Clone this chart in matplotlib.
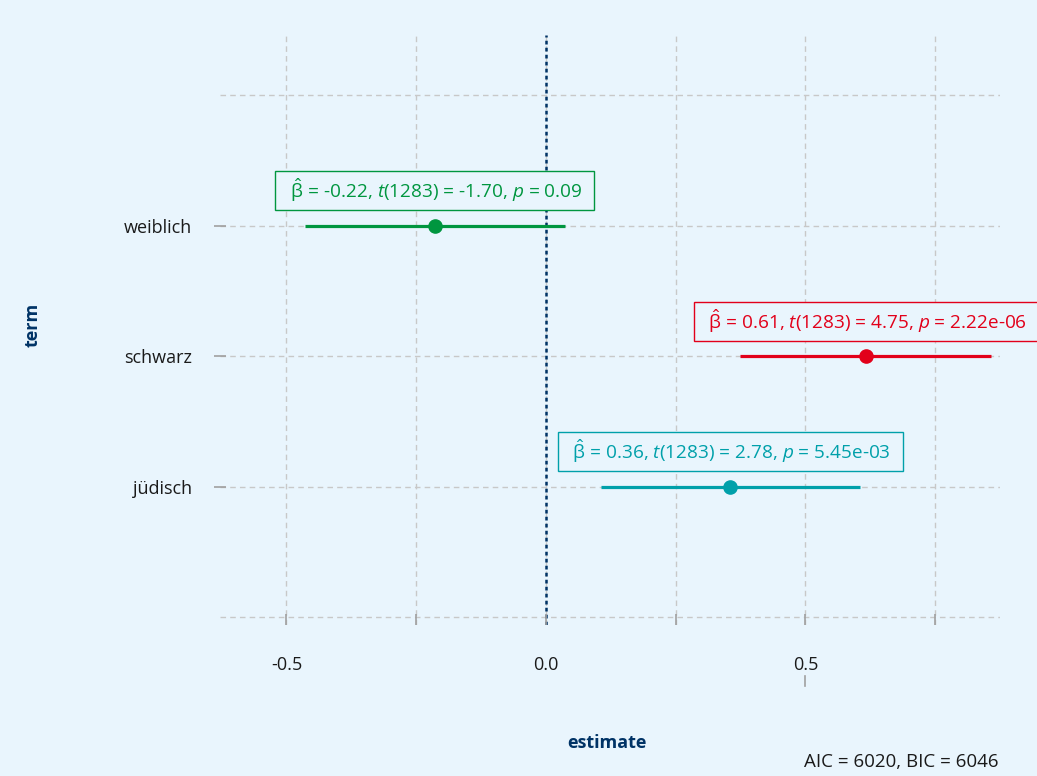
import matplotlib
matplotlib.use("Agg")
import matplotlib.pyplot as plt
from matplotlib.lines import Line2D
import matplotlib.transforms as mtransforms

plt.rcParams['font.family'] = ['Open Sans', 'DejaVu Sans']
plt.rcParams['mathtext.fontset'] = 'custom'
plt.rcParams['mathtext.rm'] = 'Open Sans'
plt.rcParams['mathtext.it'] = 'Open Sans:italic'
plt.rcParams['axes.unicode_minus'] = False

# data
terms = ["jüdisch", "schwarz", "weiblich"]
estimates = [0.355, 0.617, -0.214]
ci_low = [0.106, 0.374, -0.464]
ci_high = [0.605, 0.857, 0.037]
labels = [
    r"  $\hat{\mathrm{\beta}}$ = 0.36, $t$(1283) = 2.78, $p$ = 5.45e-03  ",
    r"  $\hat{\mathrm{\beta}}$ = 0.61, $t$(1283) = 4.75, $p$ = 2.22e-06  ",
    r"  $\hat{\mathrm{\beta}}$ = -0.22, $t$(1283) = -1.70, $p$ = 0.09  ",
]
colors = ["#00A0AA", "#E2001A", "#00963F"]
caption = "AIC = 6020, BIC = 6046"

bg = "#E9F5FD"
navy = "#003366"

fig = plt.figure(figsize=(10.37, 7.76), dpi=100, facecolor=bg)
ax = fig.add_axes([220/1037, 1 - 625/776, 780/1037, 590/776])
ax.set_facecolor(bg)
for s in ax.spines.values():
    s.set_visible(False)

ypos = list(range(1, len(terms) + 1))

ax.set_xlim(-0.628, 0.875)
ax.set_ylim(-0.06, 4.46)

# grid
for gx in [-0.5, -0.25, 0, 0.25, 0.5, 0.75]:
    ax.axvline(gx, color="#C8C8C8", lw=1, ls=(0, (4, 3)), zorder=0)
for gy in [0, 1, 2, 3, 4]:
    ax.axhline(gy, color="#C8C8C8", lw=1, ls=(0, (4, 3)), zorder=0)

ax.axvline(0, color=navy, lw=1.8, ls=(0, (1.5, 1.3)), zorder=1)

for y, est, lo, hi, lab, c in zip(ypos, estimates, ci_low, ci_high, labels, colors):
    ax.plot([lo, hi], [y, y], color=c, lw=2.3, solid_capstyle="butt", zorder=2)
    ax.plot(est, y, "o", color=c, ms=9.5, zorder=3)
    ax.annotate(lab, (est, y), xytext=(0, 35), textcoords="offset pixels",
                ha="center", va="center", color=c, fontsize=13.7,
                bbox=dict(boxstyle="square,pad=0.3", fc=bg, ec=c, lw=1),
                annotation_clip=False, zorder=4)

ax.set_yticks(ypos)
ax.set_yticklabels(terms, fontsize=13, color="#1A1A1A")
ax.set_xticks([-0.5, -0.25, 0, 0.25, 0.5, 0.75])
ax.set_xticklabels(["-0.5", "", "0.0", "", "0.5", ""], fontsize=13, color="#1A1A1A")
ax.tick_params(axis="x", direction="in", length=8, width=1.2, color="#A0A0A0", pad=22)
ax.tick_params(axis="y", direction="inout", length=8, width=1.2, color="#A0A0A0", pad=16)

# small stray tick under 0.5, as in the reference
trans = mtransforms.blended_transform_factory(ax.transData, ax.transAxes)
ax.add_line(Line2D([0.5, 0.5], [-0.086, -0.104], transform=trans, color="#A0A0A0",
                   lw=1.2, clip_on=False))

fig.text(33/1037, 1 - 325/776, "term", rotation=90, ha="center", va="center",
         fontsize=13, fontweight="bold", color=navy)
fig.text(607/1037, 1 - 743/776, "estimate", ha="center", va="center",
         fontsize=13, fontweight="bold", color=navy)
fig.text(998/1037, 1 - 762/776, caption, ha="right", va="center",
         fontsize=13.5, color="#1A1A1A")

fig.savefig("out.png", dpi=100, facecolor=bg)
